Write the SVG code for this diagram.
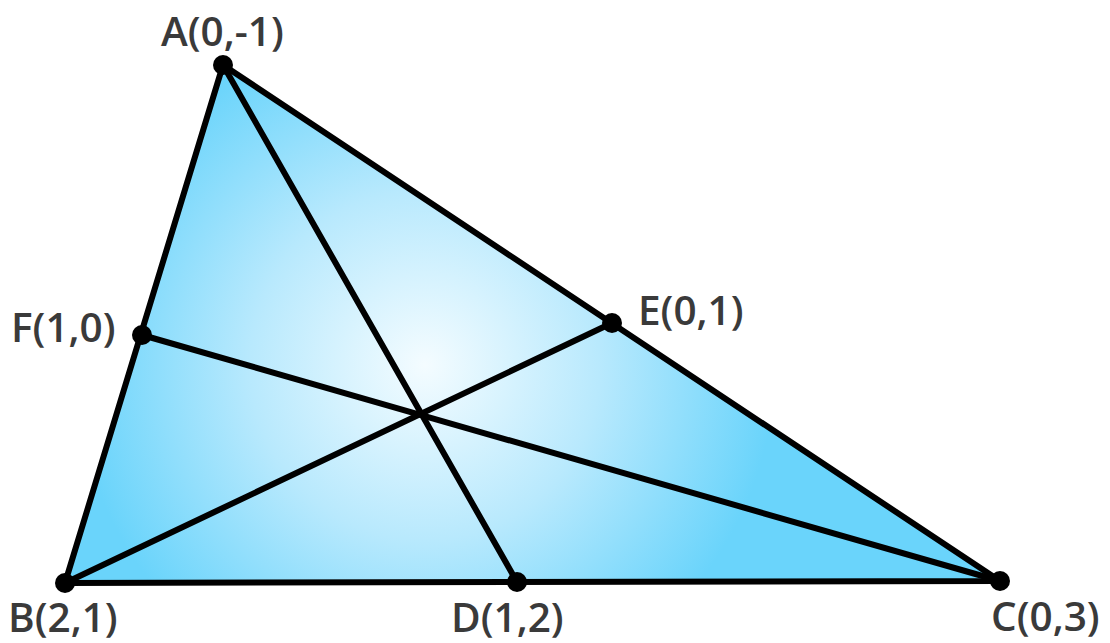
<svg xmlns="http://www.w3.org/2000/svg" width="1110" height="643" viewBox="0 0 1110 643">
<style>
.lbl{font-family:"Open Sans","Noto Sans","Liberation Sans",sans-serif;font-weight:600;font-size:40.5px;fill:#3a3a3a}
.ln{stroke:#000;stroke-width:6;stroke-linecap:round;fill:none}
.dot{fill:#000}
</style>
<defs>
<radialGradient id="g" gradientUnits="userSpaceOnUse" cx="425" cy="365" r="350">
<stop offset="0" stop-color="#f4fcff"/>
<stop offset="0.5" stop-color="#b8e9fd"/>
<stop offset="1" stop-color="#6ad4fb"/>
</radialGradient>
</defs>
<rect width="1110" height="643" fill="#fff"/>
<g id="triangle">
<polygon points="223,65 65,583 1000,581" fill="url(#g)" stroke="#000" stroke-width="6" stroke-linejoin="round"/>
</g>
<g id="connectors">
<line class="ln" x1="223" y1="65" x2="517" y2="582"/>
<line class="ln" x1="65" y1="583" x2="612" y2="323"/>
<line class="ln" x1="142" y1="335" x2="1000" y2="581"/>
</g>
<g id="A"><circle class="dot" cx="223" cy="65" r="10"/><text class="lbl" x="161" y="46">A(0,-1)</text></g>
<g id="B"><circle class="dot" cx="65" cy="583" r="10"/><text class="lbl" x="8" y="632">B(2,1)</text></g>
<g id="C"><circle class="dot" cx="1000" cy="581" r="10"/><text class="lbl" x="991" y="631">C(0,3)</text></g>
<g id="D"><circle class="dot" cx="517" cy="582" r="10"/><text class="lbl" x="451" y="632">D(1,2)</text></g>
<g id="E"><circle class="dot" cx="612" cy="323" r="10"/><text class="lbl" x="638" y="325">E(0,1)</text></g>
<g id="F"><circle class="dot" cx="142" cy="335" r="10"/><text class="lbl" x="11" y="342">F(1,0)</text></g>
</svg>
